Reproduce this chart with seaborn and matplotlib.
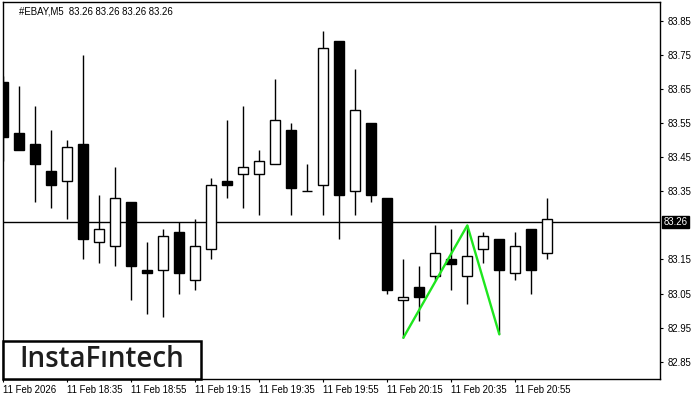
import numpy as np
import pandas as pd
import matplotlib
matplotlib.use("Agg")
import matplotlib.pyplot as plt
import seaborn as sns
from matplotlib.patches import Rectangle

# ---- data ----
times = ["18:15", "18:20", "18:25", "18:30", "18:35", "18:40", "18:45", "18:50",
         "18:55", "19:00", "19:05", "19:10", "19:15", "19:20", "19:25", "19:30",
         "19:35", "19:40", "19:45", "19:50", "19:55", "20:00", "20:05", "20:10",
         "20:15", "20:20", "20:25", "20:30", "20:35", "20:40", "20:45", "20:50",
         "20:55", "21:00", "21:05"]
opens = [83.67, 83.52, 83.49, 83.41, 83.38, 83.49, 83.20, 83.19, 83.32, 83.12,
         83.12, 83.23, 83.09, 83.18, 83.380, 83.40, 83.40, 83.43, 83.53, 83.35,
         83.37, 83.79, 83.35, 83.55, 83.33, 83.030, 83.07, 83.10, 83.152, 83.10,
         83.18, 83.21, 83.11, 83.24, 83.17]
highs = [83.69, 83.66, 83.60, 83.53, 83.50, 83.75, 83.34, 83.42, 83.32, 83.20,
         83.24, 83.26, 83.27, 83.39, 83.56, 83.60, 83.47, 83.68, 83.55, 83.43,
         83.82, 83.79, 83.71, 83.55, 83.33, 83.15, 83.13, 83.25, 83.24, 83.25,
         83.23, 83.21, 83.23, 83.24, 83.33]
lows = [83.44, 83.47, 83.32, 83.30, 83.27, 83.15, 83.14, 83.13, 83.03, 82.99,
        82.98, 83.05, 83.06, 83.15, 83.33, 83.30, 83.28, 83.43, 83.28, 83.35,
        83.28, 83.21, 83.28, 83.32, 83.05, 82.92, 82.97, 83.09, 83.06, 83.02,
        83.14, 82.93, 83.09, 83.05, 83.15]
closes = [83.51, 83.47, 83.43, 83.37, 83.48, 83.21, 83.24, 83.33, 83.13, 83.11,
          83.22, 83.11, 83.19, 83.37, 83.369, 83.42, 83.44, 83.56, 83.36, 83.35,
          83.77, 83.34, 83.59, 83.34, 83.06, 83.040, 83.04, 83.17, 83.138, 83.16,
          83.22, 83.12, 83.19, 83.12, 83.27]
current_price = 83.26
title_text = "#EBAY,M5  83.26 83.26 83.26 83.26"
yticks = [82.85, 82.95, 83.05, 83.15, 83.35, 83.45, 83.55, 83.65, 83.75, 83.85]
tick_idx = [0, 4, 8, 12, 16, 20, 24, 28, 32]
tick_labels = ["11 Feb 2026", "11 Feb 18:35", "11 Feb 18:55", "11 Feb 19:15",
               "11 Feb 19:35", "11 Feb 19:55", "11 Feb 20:15", "11 Feb 20:35",
               "11 Feb 20:55"]
pattern_idx = [25, 29, 31]
pattern_vals = [82.92, 83.25, 82.93]

df = pd.DataFrame({"time": times, "open": opens, "high": highs,
                   "low": lows, "close": closes})
df["idx"] = np.arange(len(df))
pat = pd.DataFrame({"idx": pattern_idx, "price": pattern_vals})

sns.set_style("white")
plt.rcParams["font.family"] = ["Liberation Sans", "DejaVu Sans"]

W, H = 700, 400
fig = plt.figure(figsize=(7, 4), dpi=100)
L, R, T, B = 2.5, 660.3, 2.3, 379.0
ax = fig.add_axes([L / W, (H - B) / H, (R - L) / W, (B - T) / H])
ax.set_facecolor("white")

# wicks
ax.vlines(df["idx"], df["low"], df["high"], color="black", linewidth=1.0, zorder=2)
# bodies
bull = df["close"] >= df["open"]
bottoms = np.minimum(df["open"], df["close"])
heights = np.abs(df["close"] - df["open"])
ax.bar(df["idx"], heights, bottom=bottoms, width=0.64,
       color=np.where(bull, "white", "black"), edgecolor="black",
       linewidth=1.0, zorder=3)

# current price line
ax.axhline(current_price, color="black", linewidth=1.0, zorder=1)

# pattern line
sns.lineplot(data=pat, x="idx", y="price", color="#1ee61e", linewidth=1.7,
             ax=ax, zorder=4, sort=False)

ax.set_xlim(-0.05, 41.06)
ax.set_ylim(82.799, 83.905)
ax.set_xlabel("")
ax.set_ylabel("")

for s in ax.spines.values():
    s.set_visible(True)
    s.set_color("black")
    s.set_linewidth(1.0)

ax.yaxis.tick_right()
ax.set_yticks(yticks)
ax.set_yticklabels([f"{v:.2f}" for v in yticks])
ax.set_xticks(tick_idx)
ax.set_xticklabels(tick_labels, ha="left")
ax.tick_params(axis="both", direction="out", length=2.5, width=0.8,
               color="black", labelsize=6.9, labelcolor="black")
ax.tick_params(axis="y", pad=2.5, right=True, left=False)
ax.tick_params(axis="x", pad=2.0, bottom=True)

# title
ax.text((19.3 - L) / (R - L), 1 - (11 - T) / (B - T), title_text,
        transform=ax.transAxes, fontsize=6.9, ha="left", va="center",
        color="black")

# current price label on right axis
ax.text(1.0 + 3 / (R - L), current_price, f"{current_price:.2f}",
        transform=ax.get_yaxis_transform(), fontsize=6.9, color="white",
        ha="left", va="center",
        bbox=dict(boxstyle="square,pad=0.15", facecolor="black",
                  edgecolor="black"), zorder=6, clip_on=False)

# logo box
bx0 = (2.7 - L) / (R - L)
bw = (201.3 - 2.7) / (R - L)
bh = (B - 340.7) / (B - T)
ax.add_patch(Rectangle((bx0, 0), bw, bh, transform=ax.transAxes,
                       facecolor="white", edgecolor="black", linewidth=1.8,
                       zorder=7, clip_on=False))
ax.text((101.3 - L) / (R - L), (B - 359.5) / (B - T), "InstaF\u0131ntech",
        transform=ax.transAxes, fontsize=20, ha="center", va="center",
        color="#1e1e1e", family=["Open Sans", "DejaVu Sans"], weight="semibold",
        zorder=8)

fig.savefig("out.png", dpi=100, facecolor="white")
